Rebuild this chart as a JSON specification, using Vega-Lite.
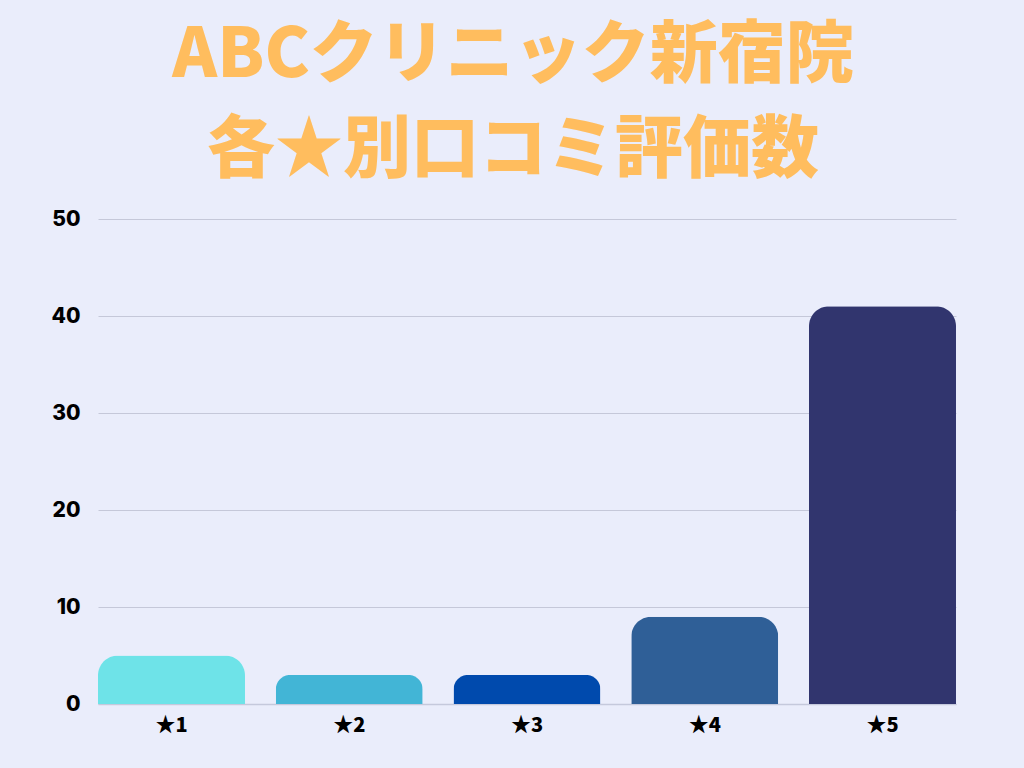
{
  "$schema": "https://vega.github.io/schema/vega-lite/v6.json",
  "autosize": "none",
  "width": 858,
  "height": 485,
  "padding": {"left": 98, "top": 219, "right": 68, "bottom": 64},
  "background": "#eaedfb",
  "title": {
    "text": ["ABCクリニック新宿院", "各★別口コミ評価数"],
    "font": "Noto Sans CJK JP",
    "fontSize": 68,
    "fontWeight": 900,
    "color": "#ffbd5e",
    "lineHeight": 95,
    "anchor": "middle",
    "dx": -14,
    "offset": 22
  },
  "config": {
    "view": {"stroke": null},
    "axis": {
      "labelFont": "Inter",
      "labelFontWeight": 800,
      "labelColor": "#000000",
      "labelFontSize": 21,
      "title": null,
      "ticks": false
    }
  },
  "data": {
    "values": [
      {"rating": "★1", "count": 5},
      {"rating": "★2", "count": 3},
      {"rating": "★3", "count": 3},
      {"rating": "★4", "count": 9},
      {"rating": "★5", "count": 41}
    ]
  },
  "mark": {"type": "bar", "cornerRadiusTopLeft": 20, "cornerRadiusTopRight": 20},
  "encoding": {
    "x": {
      "field": "rating",
      "type": "nominal",
      "sort": null,
      "scale": {"paddingInner": 0.173, "paddingOuter": 0},
      "axis": {"labelAngle": 0, "labelPadding": 11, "labelFont": "Noto Sans CJK JP", "labelFontWeight": 900, "labelFontSize": 20, "domain": true, "domainColor": "#c5c9dc", "domainWidth": 1.5, "grid": false}
    },
    "y": {
      "field": "count",
      "type": "quantitative",
      "scale": {"domain": [0, 50]},
      "axis": {"values": [0, 10, 20, 30, 40, 50], "domain": false, "grid": true, "gridColor": "#c5c8d9", "gridWidth": 1, "labelPadding": 18}
    },
    "color": {
      "field": "rating",
      "type": "nominal",
      "sort": null,
      "scale": {"range": ["#6ee3e8", "#42b5d6", "#004aad", "#2f5f97", "#31356e"]},
      "legend": null
    }
  }
}
